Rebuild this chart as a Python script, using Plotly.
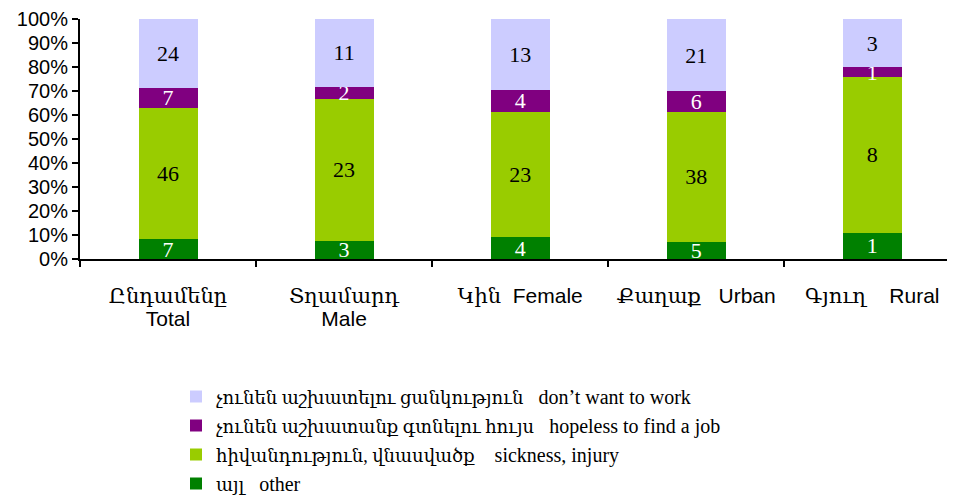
import plotly.graph_objects as go

categories = ["Total", "Male", "Female", "Urban", "Rural"]
arm = 'font-family:DejaVu Serif;font-size:21px'
eng = 'font-size:21px'
tick_labels = [
    f'<span style="{arm}">Ընդամենը</span><br><span style="{eng}">Total</span>',
    f'<span style="{arm}">Տղամարդ</span><br><span style="{eng}">Male</span>',
    f'<span style="{arm}">Կին</span><span style="{eng}">  Female</span>',
    f'<span style="{arm}">Քաղաք</span><span style="{eng}">   Urban</span>',
    f'<span style="{arm}">Գյուղ</span><span style="{eng}">    Rural</span>',
]

# shares in percent (stack heights) and the printed counts
share_other = [8.3, 7.7, 9.1, 7.1, 11.0]
share_sick = [54.8, 59.0, 52.3, 54.3, 64.8]
share_hopeless = [8.3, 5.1, 9.1, 8.6, 4.2]
share_nowant = [28.6, 28.2, 29.5, 30.0, 20.0]

label_other = [7, 3, 4, 5, 1]
label_sick = [46, 23, 23, 38, 8]
label_hopeless = [7, 2, 4, 6, 1]
label_nowant = [24, 11, 13, 21, 3]

def lg(a, e):
    return f'<span style="font-size:18px">{a}</span>   {e}'

series = [
    (lg("այլ", "other"), share_other, label_other, "#008000", "white"),
    (lg("հիվանդություն, վնասվածք", " sickness, injury"), share_sick, label_sick, "#99CC00", "black"),
    (lg("չունեն աշխատանք գտնելու հույս", "hopeless to find a job"), share_hopeless, label_hopeless, "#800080", "white"),
    (lg("չունեն աշխատելու ցանկություն", "don’t want to work"), share_nowant, label_nowant, "#CCCCFF", "black"),
]

fig = go.Figure()
for name, vals, labels, color, tcolor in series:
    fig.add_trace(go.Bar(
        x=categories, y=vals, name=name,
        marker=dict(color=color, line=dict(width=0)),
        text=[str(v) for v in labels],
        textposition="inside", insidetextanchor="middle",
        constraintext="none", textangle=0,
        textfont=dict(family="Liberation Serif", size=22, color=tcolor),
        width=0.335, hoverinfo="skip",
    ))

# page body has an 8px margin, so the figure is offset by 8px
fig.update_layout(
    barmode="stack",
    width=947, height=492,
    margin=dict(l=72, r=0, t=11, b=241, autoexpand=False),
    plot_bgcolor="white", paper_bgcolor="white",
    showlegend=True,
    legend=dict(
        traceorder="reversed",
        orientation="v",
        x=(168 - 72) / 875, xanchor="left",
        y=-244 / 240, yanchor="bottom",
        font=dict(family="Liberation Serif, DejaVu Serif", size=20, color="black"),
        itemclick=False,
    ),
    font=dict(family="Liberation Sans, Arial", color="black"),
)
fig.update_xaxes(
    tickmode="array", tickvals=categories, ticktext=tick_labels,
    range=[-0.5, 4.47],
    showline=True, linecolor="black", linewidth=2,
    ticks="outside", tickson="boundaries", ticklen=6, tickwidth=2, tickcolor="black",
    tickfont=dict(family="Liberation Sans, Arial", size=18, color="black"),
    ticklabelstandoff=20,
    showgrid=False,
)
fig.update_yaxes(
    range=[0, 100],
    tickvals=[0, 10, 20, 30, 40, 50, 60, 70, 80, 90, 100],
    ticktext=[f"{v}%" for v in range(0, 101, 10)],
    showline=True, linecolor="black", linewidth=2,
    ticks="outside", ticklen=6, tickwidth=2, tickcolor="black",
    tickfont=dict(family="Liberation Sans, Arial", size=20, color="black"),
    showgrid=False, zeroline=False,
)

fig.write_html("out.html")
